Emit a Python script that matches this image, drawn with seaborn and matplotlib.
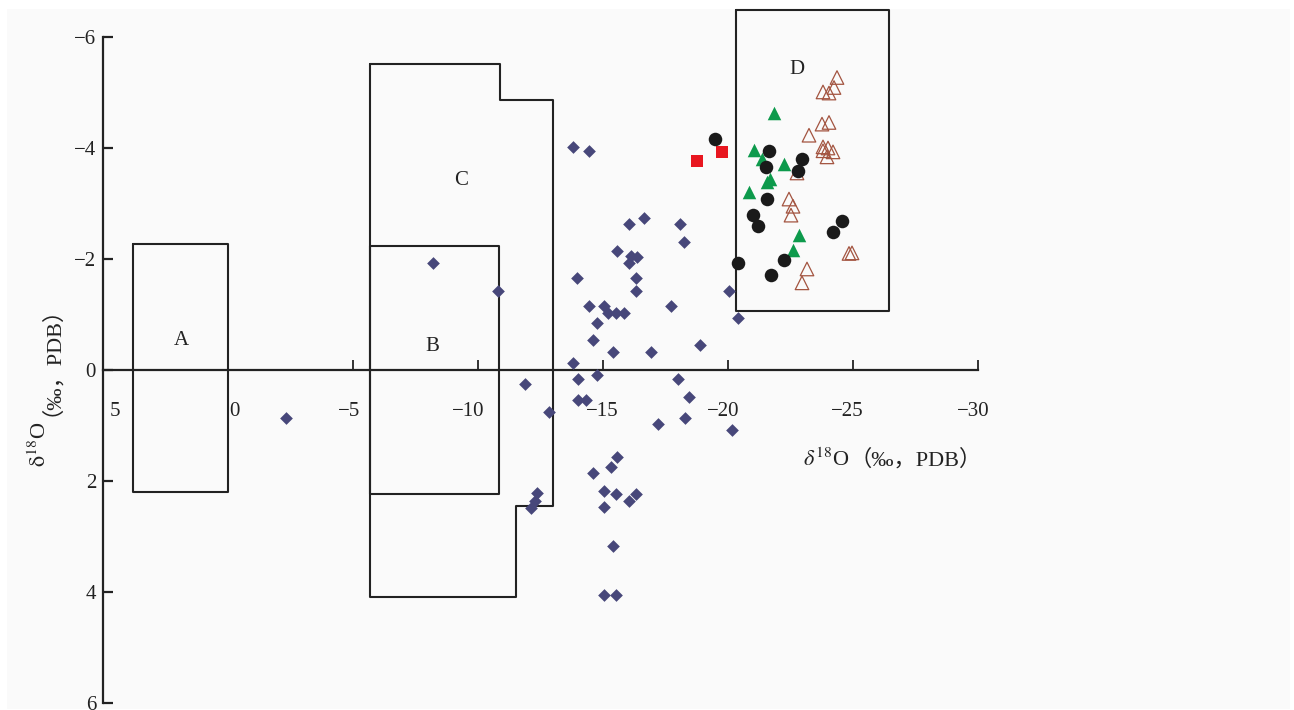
import numpy as np
import pandas as pd
import seaborn as sns
import matplotlib
matplotlib.use("Agg")
import matplotlib.pyplot as plt
from matplotlib.patches import Rectangle
from matplotlib.transforms import ScaledTranslation

# diamonds (main data set)
diamond_x = [-2.32, -8.2, -10.8, -11.88, -12.84, -12.36, -12.28, -12.12,
             -13.8, -14.44, -16.04, -16.64, -18.08, -18.24, -15.56, -16.12,
             -16.36, -16.04, -13.96, -16.32, -16.32, -20.04, -14.44, -15.04,
             -15.2, -15.52, -15.84, -17.72, -20.4, -14.76, -14.6, -15.4,
             -16.92, -18.88, -13.8, -14.0, -14.76, -18.0, -14.0, -14.32,
             -18.44, -17.2, -18.28, -20.16, -15.56, -15.32, -14.6, -15.04,
             -15.52, -16.04, -16.32, -15.04, -15.4, -15.04, -15.52]
diamond_y = [0.86, -1.93, -1.43, 0.25, 0.76, 2.22, 2.36, 2.49,
             -4.02, -3.95, -2.63, -2.74, -2.63, -2.31, -2.14, -2.05,
             -2.04, -1.92, -1.66, -1.66, -1.43, -1.43, -1.15, -1.15,
             -1.03, -1.03, -1.03, -1.15, -0.94, -0.85, -0.54, -0.32,
             -0.32, -0.45, -0.13, 0.16, 0.09, 0.16, 0.54, 0.54,
             0.48, 0.97, 0.86, 1.08, 1.57, 1.75, 1.86, 2.18,
             2.24, 2.36, 2.24, 2.46, 3.17, 4.05, 4.05]

# black circles
circle_x = [-19.48, -21.64, -21.52, -22.96, -22.8, -21.56, -21.0, -21.2,
            -24.56, -24.2, -20.4, -22.24, -21.72]
circle_y = [-4.16, -3.95, -3.66, -3.8, -3.59, -3.09, -2.79, -2.59,
            -2.68, -2.49, -1.93, -1.99, -1.71]

# green filled triangles
green_x = [-21.84, -21.04, -21.36, -22.24, -21.56, -21.68, -20.84, -22.84, -22.6]
green_y = [-4.63, -3.97, -3.8, -3.72, -3.39, -3.44, -3.21, -2.43, -2.17]

# open brown triangles
open_x = [-24.36, -24.24, -23.8, -24.04, -24.04, -23.76, -23.24, -23.8, -24.0,
          -24.2, -23.8, -23.96, -22.76, -22.44, -22.6, -22.52, -24.84, -24.96,
          -23.16, -22.96]
open_y = [-5.27, -5.09, -5.01, -4.99, -4.46, -4.43, -4.23, -4.02, -4.0,
          -3.93, -3.95, -3.84, -3.55, -3.08, -2.95, -2.79, -2.1, -2.11,
          -1.82, -1.57]

# red squares
square_x = [-18.76, -19.76]
square_y = [-3.77, -3.93]

# field outlines A-D
box_a_x = [3.8, 0.0, 0.0, 3.8, 3.8]
box_a_y = [-2.27, -2.27, 2.2, 2.2, -2.27]
box_b_x = [-5.68, -10.84, -10.84, -5.68, -5.68]
box_b_y = [-2.24, -2.24, 2.24, 2.24, -2.24]
box_c_x = [-5.68, -10.88, -10.88, -13.0, -13.0, -11.52, -11.52, -5.68, -5.68]
box_c_y = [-5.52, -5.52, -4.86, -4.86, 2.45, 2.45, 4.09, 4.09, -5.52]
box_d_x = [-20.32, -26.44, -26.44, -20.32, -20.32]
box_d_y = [-6.49, -6.49, -1.06, -1.06, -6.49]
box_labels = ["A", "B", "C", "D"]
label_x = [1.88, -8.16, -9.32, -22.76]
label_y = [-0.54, -0.43, -3.42, -5.42]

x_ticks = [5, 0, -5, -10, -15, -20, -25, -30]
y_ticks = [-6, -4, -2, 0, 2, 4, 6]
# hand-set horizontal nudges of the x tick labels in the original (pixels)
x_label_shift = [12, 6, -4, -10, -1, -5, -6, -5]

sns.set_style("ticks")
plt.rcParams['font.family'] = ['Liberation Serif', 'Noto Sans CJK SC', 'DejaVu Sans']
plt.rcParams['mathtext.fontset'] = 'stix'

fig = plt.figure(figsize=(12.94, 7.10), dpi=100, facecolor="white")
fig.patches.append(Rectangle((7 / 1294, 1 / 710), 1283 / 1294, 700 / 710,
                             transform=fig.transFigure, facecolor="#fafafa",
                             edgecolor="none", zorder=-5))
ax = fig.add_axes([103 / 1294, 7 / 710, 875 / 1294, 699.3 / 710])
ax.set_facecolor("none")

ink = "#222222"
for bx, by in [(box_a_x, box_a_y), (box_b_x, box_b_y), (box_c_x, box_c_y), (box_d_x, box_d_y)]:
    ax.plot(bx, by, color=ink, lw=1.5, clip_on=False, zorder=2)
for t, lx, ly in zip(box_labels, label_x, label_y):
    ax.text(lx, ly, t, fontsize=15, ha="center", va="center", color=ink)

sns.scatterplot(x=diamond_x, y=diamond_y, marker="D", s=42, color="#47477a",
                linewidth=0, ax=ax, zorder=3, clip_on=False)
sns.scatterplot(x=square_x, y=square_y, marker="s", s=78, color="#e8161f",
                linewidth=0, ax=ax, zorder=3, clip_on=False)
sns.scatterplot(x=open_x, y=open_y, marker="^", s=95, facecolor="none",
                edgecolor="#a35440", linewidth=0.9, ax=ax, zorder=3, clip_on=False)
sns.scatterplot(x=green_x, y=green_y, marker="^", s=95, color="#0d9a4c",
                linewidth=0, ax=ax, zorder=4, clip_on=False)
sns.scatterplot(x=circle_x, y=circle_y, marker="o", s=95, color="#1a1a1a",
                linewidth=0, ax=ax, zorder=4, clip_on=False)

ax.set_xlim(5, -30)
ax.set_ylim(6, -6.6)
ax.spines['top'].set_visible(False)
ax.spines['right'].set_visible(False)
ax.spines['bottom'].set_position(('data', 0))
ax.spines['left'].set_bounds(-6, 6)
for s in ['bottom', 'left']:
    ax.spines[s].set_linewidth(1.6)
    ax.spines[s].set_color(ink)
ax.set_xticks(x_ticks)
ax.set_yticks(y_ticks)
ax.tick_params(axis='x', direction='in', length=7, width=1.3, pad=23,
               labelsize=15, colors=ink)
ax.tick_params(axis='y', direction='in', length=7, width=1.6, pad=5,
               labelsize=15, colors=ink)
for lab, dx in zip(ax.get_xticklabels(), x_label_shift):
    lab.set_transform(lab.get_transform() + ScaledTranslation(dx / 100, 0, fig.dpi_scale_trans))

# axis titles: delta part in mathtext, bracket part as plain text (CJK fallback)
xt = ax.text(-23.0, 1.62, r"$\delta^{18}$O", fontsize=16, ha="left", va="center", color=ink)
ax.annotate("（‰，PDB）", xy=(1, 0.5), xycoords=xt, fontsize=16,
            ha="left", va="center", color=ink)
yt = fig.text(40 / 1294, 1 - 467 / 710, r"$\mathrm{\delta}^{18}$O", fontsize=16,
              rotation=90, ha="center", va="bottom", color=ink)
ax.annotate("（‰，PDB）", xy=(0.5, 1), xycoords=yt, xytext=(0, 4),
            textcoords="offset points", fontsize=16, rotation=90,
            ha="center", va="bottom", color=ink, annotation_clip=False)

fig.savefig("out.png", dpi=100, facecolor="white")
